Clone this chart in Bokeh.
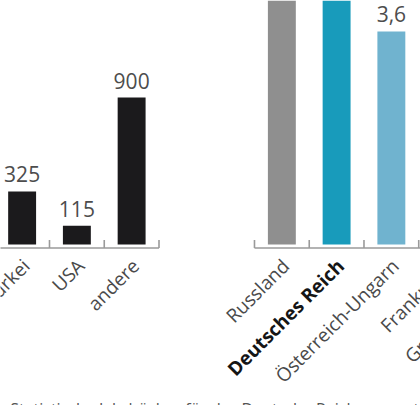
import numpy as np
from bokeh.plotting import figure
from bokeh.models import Range1d, ColumnDataSource
from bokeh.core.properties import value
from bokeh.embed import file_html
from bokeh.resources import INLINE

# ---- data (left panel) ----
left_cats = ["Türkei", "USA", "andere"]
left_vals = [325, 115, 900]
left_texts = ["325", "115", "900"]

# ---- data (right panel) ----
right_cats = ["Russland", "Deutsches Reich", "Österreich-Ungarn", "Frankreich", "Großbritannien"]
right_vals = [5.9, 4.5, 3.6, 3.8, 1.0]
right_texts = ["5,9", "4,5", "3,6", "3,8", "1,0"]
right_colors = ["#8f8f8f", "#189bbb", "#70b3cf", "#a6d0e2", "#c4c4c4"]

source_text = "Quelle: Statistische Jahrbücher für das Deutsche Reich, www.staatsm"

# ---- layout constants ----
PX_X = 54.75          # px per category
PX_YL = 0.1633        # px per unit, left panel
PX_YR = 59.2          # px per unit, right panel
BASE_PX = 244         # pixel row of the bar base
RIGHT_START = 4.744   # x position of first right-panel category

FONT = value("Open Sans")

x0 = 0.5 - 49 / PX_X
p = figure(width=420, height=405, output_backend="svg", toolbar_location=None,
           x_range=Range1d(x0, x0 + 420 / PX_X),
           y_range=Range1d(-(405 - BASE_PX) / PX_YL, BASE_PX / PX_YL),
           x_axis_location=None, y_axis_location=None, min_border=0)
p.extra_y_ranges = {"r": Range1d(-(405 - BASE_PX) / PX_YR, BASE_PX / PX_YR)}
p.grid.visible = False
p.outline_line_color = None
p.background_fill_color = "white"
p.border_fill_color = "white"

lx = np.arange(len(left_cats)).astype(float)
rx = RIGHT_START + np.arange(len(right_cats))

# bars
p.vbar(x=lx, top=left_vals, bottom=0, width=0.51, fill_color="#1b1a1c", line_color=None)
p.vbar(x=rx, top=right_vals, bottom=0, width=0.51, fill_color=right_colors,
       line_color=None, y_range_name="r")

# baseline + boundary ticks (drawn in left-panel coordinates)
yb = -3.5 / PX_YL
yt = yb + 8 / PX_YL
for xs in (lx, rx):
    p.segment(x0=[xs[0] - 0.5], y0=[yb], x1=[xs[-1] + 0.5], y1=[yb],
              line_color="#9a9a9a", line_width=1.6)
    b = np.concatenate([xs - 0.5, [xs[-1] + 0.5]])
    p.segment(x0=b, y0=[yb] * len(b), x1=b, y1=[yt] * len(b),
              line_color="#9a9a9a", line_width=1.6)

# value labels (centred ~17 px above the bar top)
p.text(x=lx, y=np.array(left_vals) + 17 / PX_YL, text=left_texts, text_align="center",
       text_baseline="middle", text_font=FONT, text_font_size="21px", text_color="#4d4d4d")
p.text(x=rx, y=np.array(right_vals) + 17 / PX_YR, text=right_texts, text_align="center",
       text_baseline="middle", text_font=FONT, text_font_size="21px", text_color="#4d4d4d",
       y_range_name="r")

# category labels
cats = left_cats + right_cats
cx = np.concatenate([lx, rx])
styles = ["bold" if c == "Deutsches Reich" else "normal" for c in cats]
colors = ["#151515" if c == "Deutsches Reich" else "#4a4a4a" for c in cats]
src = ColumnDataSource(dict(x=cx + 4 / PX_X, y=[-18 / PX_YL] * len(cats), t=cats, s=styles, c=colors))
p.text(x="x", y="y", text="t", source=src, angle=np.pi / 4, text_align="right",
       text_baseline="middle", text_font=FONT,
       text_font_size="19px", text_font_style="s", text_color="c")

# source line
p.text(x=[x0 - 47 / PX_X], y=[-(397 - BASE_PX) / PX_YL], text=[source_text],
       text_align="left", text_baseline="top", text_font=FONT,
       text_font_size="16px", text_color="#555555")

open("out.html", "w").write(file_html(p, INLINE))
